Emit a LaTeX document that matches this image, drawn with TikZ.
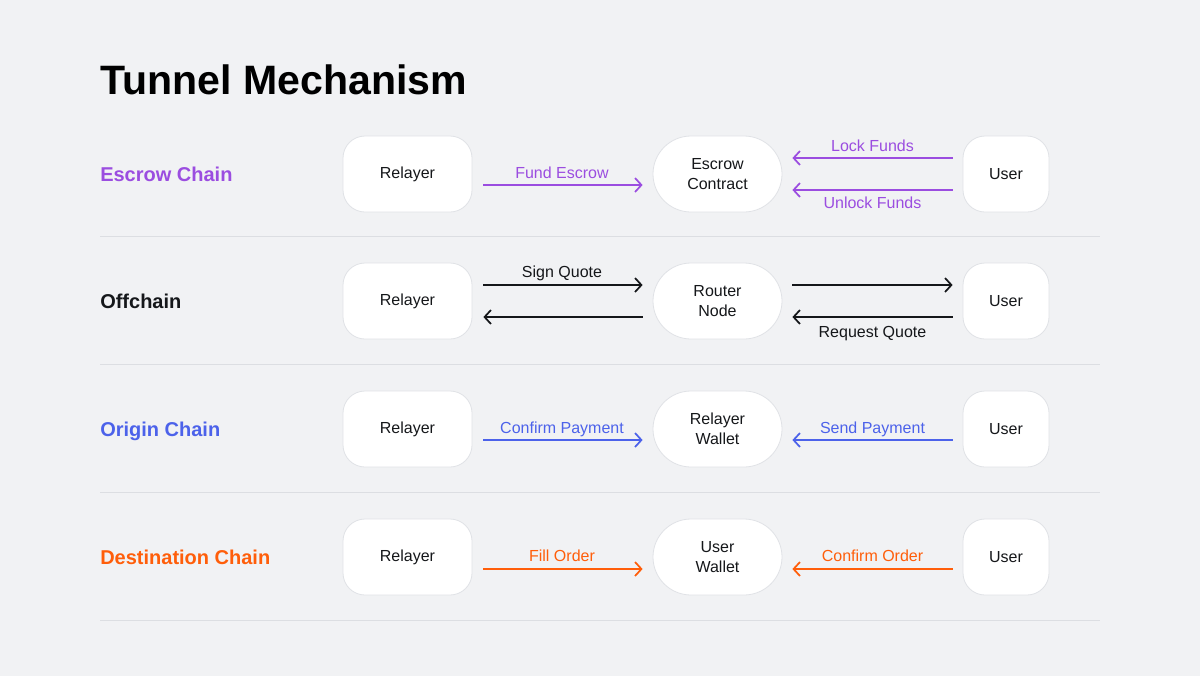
\documentclass[tikz,border=0pt]{standalone}
\usepackage{fontspec}
\setmainfont{Liberation Sans}
\usetikzlibrary{arrows.meta}
\definecolor{bg}{HTML}{F1F2F4}
\definecolor{boxline}{HTML}{E0E2E6}
\definecolor{sepline}{HTML}{DCDEE2}
\definecolor{ink}{HTML}{15171A}
\definecolor{cpurple}{HTML}{9B4DE0}
\definecolor{cblue}{HTML}{4C62EA}
\definecolor{corange}{HTML}{FF5E0A}
\begin{document}
\begin{tikzpicture}[x=0.75pt,y=-0.75pt,
  box/.style={draw=boxline, fill=white, line width=0.6pt, minimum width=96.75pt,
    minimum height=57pt, rounded corners=16.5pt, inner sep=0pt,
    font=\fontsize{12}{15}\selectfont, text=ink, align=center},
  pill/.style={box, rounded corners=28.5pt},
  userbox/.style={box, minimum width=64.5pt},
  arr/.style={line width=1.3pt, -{Straight Barb[length=4.8pt,width=10.5pt]}},
  lr/.style={arr, shorten <=8.25pt, shorten >=7.5pt},
  rl/.style={arr, shorten <=7.5pt, shorten >=8.25pt},
  rr/.style={arr, shorten <=7.5pt, shorten >=7.5pt},
  lbl/.style={font=\fontsize{12}{14}\selectfont, anchor=base, inner sep=0pt},
  rowlbl/.style={font=\bfseries\fontsize{15}{18}\selectfont, anchor=base west, inner sep=0pt},
  sep/.style={draw=sepline, line width=0.75pt}
]
\useasboundingbox[fill=bg] (0,0) rectangle (1200,676);

% title
\node[anchor=base west, inner sep=0pt, font=\bfseries\fontsize{30.8}{36}\selectfont, text=black] (title) at (100,94) {Tunnel Mechanism};

% row labels
\node[rowlbl, text=cpurple] (l1) at (100,181) {Escrow Chain};
\node[rowlbl, text=ink] (l2) at (100,308) {Offchain};
\node[rowlbl, text=cblue] (l3) at (100,436) {Origin Chain};
\node[rowlbl, text=corange] (l4) at (100,564) {Destination Chain};

% separators
\draw[sep] (100,236.5) -- (1100,236.5);
\draw[sep] (100,364.5) -- (1100,364.5);
\draw[sep] (100,492.5) -- (1100,492.5);
\draw[sep] (100,620.5) -- (1100,620.5);

% row 1
\node[box] (r1) at (407.5,174) {Relayer};
\node[pill] (m1) at (717.5,174) {Escrow\\Contract};
\node[userbox] (u1) at (1006,174) {User};
\draw[lr, cpurple] (r1.east |- 0,185) -- (m1.west |- 0,185);
\draw[rr, cpurple] (u1.west |- 0,158) -- (m1.east |- 0,158);
\draw[rr, cpurple] (u1.west |- 0,190) -- (m1.east |- 0,190);
\node[lbl, text=cpurple] (t1a) at (562,178) {Fund Escrow};
\node[lbl, text=cpurple] (t1b) at (872.5,151) {Lock Funds};
\node[lbl, text=cpurple] (t1c) at (872.5,208) {Unlock Funds};

% row 2
\node[box] (r2) at (407.5,301) {Relayer};
\node[pill] (m2) at (717.5,301) {Router\\Node};
\node[userbox] (u2) at (1006,301) {User};
\draw[lr, ink] (r2.east |- 0,285) -- (m2.west |- 0,285);
\draw[rl, ink] (m2.west |- 0,317) -- (r2.east |- 0,317);
\draw[rr, ink] (m2.east |- 0,285) -- (u2.west |- 0,285);
\draw[rr, ink] (u2.west |- 0,317) -- (m2.east |- 0,317);
\node[lbl, text=ink] (t2a) at (562,277) {Sign Quote};
\node[lbl, text=ink] (t2b) at (872.5,337) {Request Quote};

% row 3
\node[box] (r3) at (407.5,429) {Relayer};
\node[pill] (m3) at (717.5,429) {Relayer\\Wallet};
\node[userbox] (u3) at (1006,429) {User};
\draw[lr, cblue] (r3.east |- 0,440) -- (m3.west |- 0,440);
\draw[rr, cblue] (u3.west |- 0,440) -- (m3.east |- 0,440);
\node[lbl, text=cblue] (t3a) at (562,433) {Confirm Payment};
\node[lbl, text=cblue] (t3b) at (872.5,433) {Send Payment};

% row 4
\node[box] (r4) at (407.5,557) {Relayer};
\node[pill] (m4) at (717.5,557) {User\\Wallet};
\node[userbox] (u4) at (1006,557) {User};
\draw[lr, corange] (r4.east |- 0,569) -- (m4.west |- 0,569);
\draw[rr, corange] (u4.west |- 0,569) -- (m4.east |- 0,569);
\node[lbl, text=corange] (t4a) at (562,561) {Fill Order};
\node[lbl, text=corange] (t4b) at (872.5,561) {Confirm Order};
\end{tikzpicture}
\end{document}
